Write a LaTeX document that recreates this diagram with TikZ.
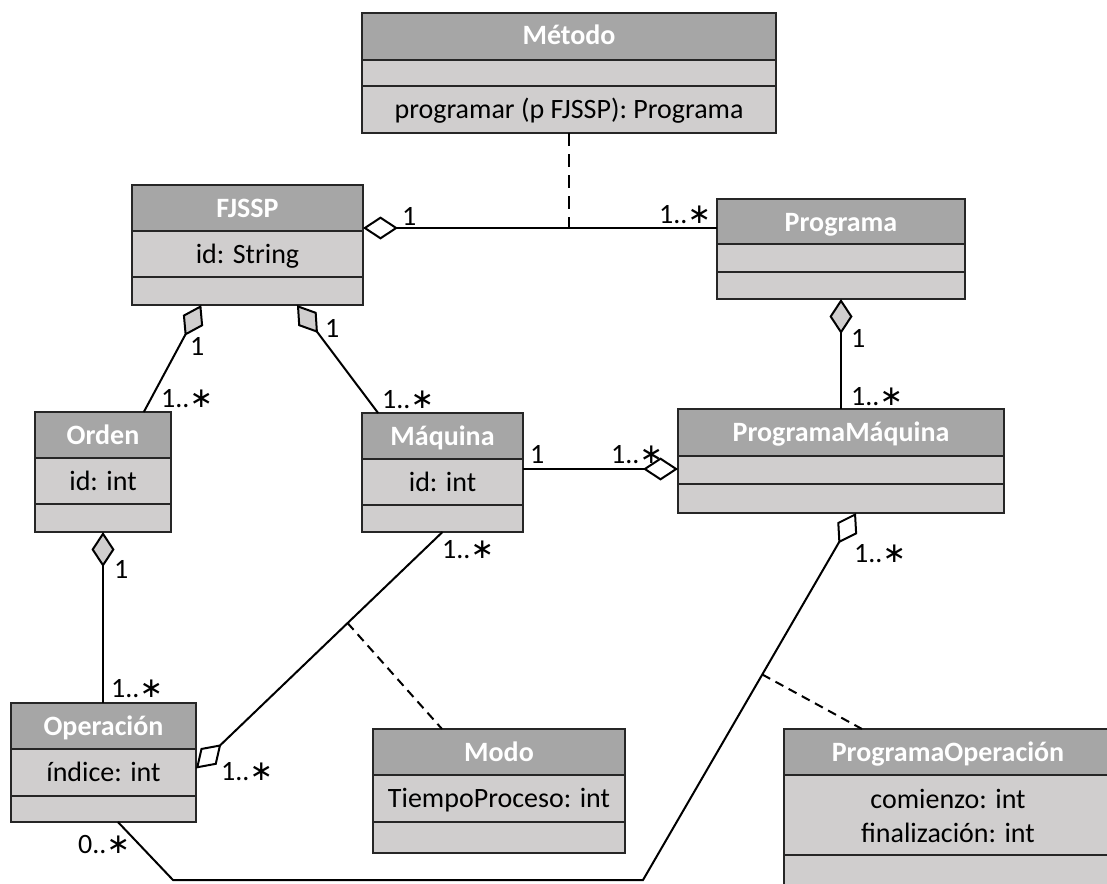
\documentclass[tikz,border=0pt]{standalone}
\usepackage{fontspec}
\setmainfont{Carlito}
\newfontfamily\symfont{DejaVu Sans}
\usetikzlibrary{arrows.meta,calc}

\definecolor{hdrc}{RGB}{166,166,166}
\definecolor{bodyc}{RGB}{208,206,206}
\definecolor{edgec}{RGB}{38,38,38}

% multiplicity star
\newcommand\mstar{{\symfont ∗}}

\tikzset{
  cbody/.style={rectangle, fill=bodyc, draw=none, inner sep=0pt, outer sep=0pt},
  cedge/.style={draw=edgec, line width=2pt},
  ctitle/.style={font=\fontsize{28}{33}\selectfont\bfseries, text=white, anchor=base, inner sep=0pt},
  ctext/.style={font=\fontsize{28}{33}\selectfont, text=black, anchor=base, inner sep=0pt},
  mult/.style={font=\fontsize{28}{33}\selectfont, anchor=base west, inner sep=0pt},
  conn/.style={draw=black, line width=2pt},
  dashlong/.style={draw=black, line width=2pt, dash pattern=on 13pt off 8pt},
  dashshort/.style={draw=black, line width=2pt, dash pattern=on 9pt off 6pt},
  odia/.tip={Diamond[fill=white, length=35pt, width=23pt, line join=miter]},
  fdia/.tip={Diamond[fill=bodyc, length=35pt, width=23pt, line join=miter]},
}

% class box: name, x1, x2, top, header bottom, divider, bottom, title, attribute
\newcommand\umlclass[9]{%
  \pgfmathsetmacro\ucx{(#2+#3)/2}%
  \pgfmathsetmacro\ucy{(#4+#7)/2}%
  \pgfmathsetmacro\ucw{#3-#2}%
  \pgfmathsetmacro\uch{#7-#4}%
  \node[cbody, minimum width=\ucw pt, minimum height=\uch pt] (#1) at (\ucx,\ucy) {};
  \fill[hdrc] (#2,#4) rectangle (#3,#5);
  \draw[cedge] (#2,#5) -- (#3,#5) (#2,#6) -- (#3,#6);
  \draw[cedge] (#1.north west) rectangle (#1.south east);
  \node[ctitle] (#1-title) at (\ucx,#4+32) {#8};
  \node[ctext] (#1-attr) at (\ucx,#5+32) {#9};
}

\begin{document}
\begin{tikzpicture}[x=1pt, y=-1pt]
\useasboundingbox (0,0) rectangle (1107,883);

% classes
\umlclass{metodo}{362}{776}{13}{60}{86}{133}{Método}{}
\node[ctext] (metodo-op) at (569,118) {programar (p FJSSP): Programa};
\umlclass{fjssp}{132}{363}{185}{231}{277}{305}{FJSSP}{id: String}
\umlclass{programa}{717}{965}{199}{244}{272}{299}{Programa}{}
\umlclass{pm}{678}{1004}{409}{456}{484}{513}{ProgramaMáquina}{}
\umlclass{orden}{35}{171}{412}{458}{504}{532}{Orden}{id: int}
\umlclass{maquina}{362}{523}{413}{459}{505}{532}{Máquina}{id: int}
\umlclass{operacion}{11}{196}{703}{749}{796}{822}{Operación}{índice: int}
\umlclass{modo}{373}{625}{729}{775}{822}{853}{Modo}{TiempoProceso: int}
\umlclass{po}{784}{1112}{729}{775}{855}{910}{ProgramaOperación}{}
\node[ctext] (po-a1) at (948,808) {comienzo: int};
\node[ctext] (po-a2) at (948,842) {finalización: int};

% FJSSP -- Programa, with the Método association class
\coordinate (assoc) at (569,228);
\draw[conn, odia-] (fjssp.east |- assoc) -- (programa.west |- assoc);
\draw[dashlong] (metodo.south) -- (assoc);

% FJSSP aggregates Orden and Máquina
\draw[conn, fdia-] ($(fjssp.south west)!0.3!(fjssp.south east)$) -- ($(orden.north west)!0.8!(orden.north east)$);
\draw[conn, fdia-] ($(fjssp.south west)!0.714!(fjssp.south east)$) -- ($(maquina.north west)!0.1!(maquina.north east)$);

% Programa aggregates ProgramaMáquina
\draw[conn, fdia-] (programa.south) -- (pm.north);

% Máquina -- ProgramaMáquina
\coordinate (mp) at (600,469);
\draw[conn, -odia] (maquina.east |- mp) -- (pm.west |- mp);

% Orden aggregates Operación
\draw[conn, fdia-] (orden.south) -- (orden.south |- operacion.north);

% Operación -- Máquina, with the Modo association class
\draw[conn, odia-] ([yshift=-6pt]operacion.east) -- coordinate[pos=0.615] (mm) (maquina.south);
\draw[dashshort] (mm) -- ([xshift=69pt]modo.north west);

% ProgramaMáquina -- Operación, with the ProgramaOperación association class
\coordinate (c1) at (643,880);
\coordinate (c2) at (173,880);
\draw[conn, odia-] ($(pm.south west)!0.546!(pm.south east)$) -- coordinate[pos=0.44] (pp) (c1) -- (c2) -- ($(operacion.south west)!0.578!(operacion.south east)$);
\draw[dashshort] (pp) -- ([xshift=78pt]po.north west);

% multiplicities
\node[mult] (m1) at (402,225) {1};
\node[mult] (m2) at (659,223) {1..\mstar};
\node[mult] (m3) at (190,355) {1};
\node[mult] (m4) at (161,407) {1..\mstar};
\node[mult] (m5) at (325,337) {1};
\node[mult] (m6) at (382,408) {1..\mstar};
\node[mult] (m7) at (851,347) {1};
\node[mult] (m8) at (851,405) {1..\mstar};
\node[mult] (m9) at (530,463) {1};
\node[mult] (m10) at (611,463) {1..\mstar};
\node[mult] (m11) at (114,578) {1};
\node[mult] (m12) at (111,697) {1..\mstar};
\node[mult] (m13) at (442,558) {1..\mstar};
\node[mult] (m14) at (221,780) {1..\mstar};
\node[mult] (m15) at (78,853) {0..\mstar};
\node[mult] (m16) at (854,562) {1..\mstar};
\end{tikzpicture}
\end{document}
